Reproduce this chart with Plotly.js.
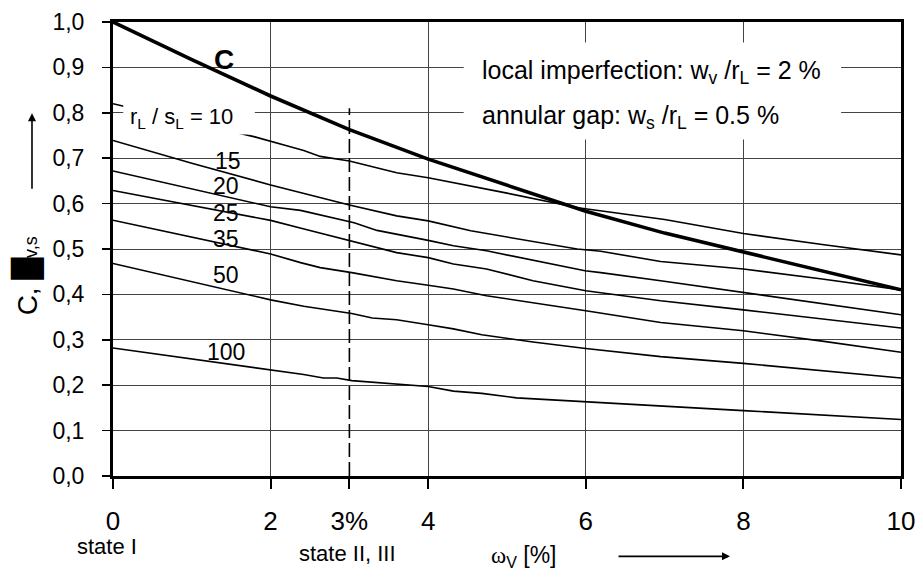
<!DOCTYPE html>
<html>
<head>
<meta charset="utf-8">
<script src="https://cdn.plot.ly/plotly-3.0.1.min.js"></script>
<style>html,body{margin:0;padding:0;background:#fff;}</style>
</head>
<body>
<div id="chart" style="width:916px;height:571px;"></div>
<script>
// ---------- data ----------
const xTickVals = [0, 2, 3, 4, 6, 8, 10];
const xTickText = ['0', '2', '3%', '4', '6', '8', '10'];
const xGridVals = [2, 4, 6, 8];

// buckling coefficient C (thick curve)
const xC = [0, 1, 2, 3, 4, 5, 6, 7, 8, 9, 10];
const yC = [1.0, 0.917, 0.837, 0.763, 0.698, 0.64, 0.583, 0.535, 0.494, 0.452, 0.41];

// r_L / s_L = 10
const x10 = [0, 1, 1.8, 2.25, 2.42, 2.63, 3, 3.6, 4, 5, 5.9, 7, 8, 9, 10];
const y10 = [0.82, 0.78, 0.747, 0.725, 0.717, 0.704, 0.694, 0.668, 0.657, 0.623, 0.591, 0.565, 0.534, 0.51, 0.487];
// r_L / s_L = 15
const x15 = [0, 1, 2, 2.38, 2.63, 3, 3.6, 4, 4.54, 4.92, 5.89, 6.19, 6.95, 8, 9, 10];
const y15 = [0.739, 0.689, 0.641, 0.624, 0.612, 0.597, 0.573, 0.562, 0.54, 0.529, 0.5, 0.495, 0.4725, 0.456, 0.434, 0.41];
// r_L / s_L = 20
const x20 = [0, 1, 2, 2.38, 3.06, 3.35, 3.6, 4, 4.32, 4.74, 5.99, 6.19, 6.95, 8, 10];
const y20 = [0.672, 0.632, 0.593, 0.585, 0.558, 0.541, 0.533, 0.519, 0.507, 0.496, 0.452, 0.448, 0.43, 0.404, 0.355];
// r_L / s_L = 25
const x25 = [0, 1, 2, 2.4, 3, 3.6, 4, 4.32, 4.74, 5.33, 6, 6.95, 8, 9, 10];
const y25 = [0.629, 0.596, 0.563, 0.545, 0.518, 0.492, 0.481, 0.467, 0.456, 0.43, 0.408, 0.386, 0.366, 0.346, 0.326];
// r_L / s_L = 35
const x35 = [0, 1, 2, 2.38, 2.63, 3.03, 3.6, 4, 4.32, 4.74, 5.33, 6, 6.95, 8, 9, 10];
const y35 = [0.5635, 0.527, 0.489, 0.47, 0.459, 0.448, 0.43, 0.42, 0.412, 0.397, 0.382, 0.364, 0.338, 0.32, 0.297, 0.2725];
// r_L / s_L = 50
const x50 = [0, 1, 2, 2.42, 3.03, 3.29, 3.6, 4, 4.32, 4.68, 5.33, 6, 6.95, 8, 9, 10];
const y50 = [0.468, 0.428, 0.388, 0.374, 0.358, 0.348, 0.344, 0.333, 0.324, 0.311, 0.295, 0.281, 0.263, 0.248, 0.232, 0.216];
// r_L / s_L = 100
const x100 = [0, 1, 2, 2.42, 2.67, 2.84, 3.03, 4, 4.32, 4.68, 5.12, 6, 8, 10];
const y100 = [0.282, 0.258, 0.2345, 0.2235, 0.216, 0.216, 0.21, 0.197, 0.187, 0.182, 0.172, 0.163, 0.144, 0.1245];

// state boundary (dashed) at omega_v = 3 %
const stateX = [3, 3];
const stateY = [0, 0.81];

const curveLabels = ['15', '20', '25', '35', '50', '100'];

// ---------- drawing ----------
const FONT = 'Liberation Sans, Arial, sans-serif';
const thin = {color: '#000', width: 1.6};
function line(x, y, style) {
  return {x: x, y: y, type: 'scatter', mode: 'lines', line: style, hoverinfo: 'skip', cliponaxis: true};
}
const traces = [
  line(x10, y10, thin), line(x15, y15, thin), line(x20, y20, thin), line(x25, y25, thin),
  line(x35, y35, thin), line(x50, y50, thin), line(x100, y100, thin),
  line(stateX, stateY, {color: '#000', width: 1.6, dash: '14px,5px'}),
  line(xC, yC, {color: '#000', width: 3.6})
];

const labelPos = [[1.455, 0.694], [1.44, 0.639], [1.44, 0.58], [1.44, 0.523], [1.44, 0.442], [1.44, 0.273]];
const annotations = curveLabels.map((t, i) => ({
  x: labelPos[i][0], y: labelPos[i][1], xref: 'x', yref: 'y', text: t, showarrow: false,
  font: {family: FONT, size: 23, color: '#000'}, xanchor: 'center', yanchor: 'middle'
}));
annotations.push(
  {x: 1.41, y: 0.917, xref: 'x', yref: 'y', text: '<b>C</b>', showarrow: false,
   font: {family: FONT, size: 28, color: '#000'}, xanchor: 'center', yanchor: 'middle'},
  {x: 0.87, y: 0.788, xref: 'x', yref: 'y', text: 'r<sub>L</sub> / s<sub>L</sub> = 10', showarrow: false,
   font: {family: FONT, size: 22, color: '#000'}, xanchor: 'center', yanchor: 'middle'},
  {x: 4.66, y: 0.89, xref: 'x', yref: 'y', text: 'local imperfection: w<sub>v</sub> /r<sub>L</sub> = 2 %', showarrow: false,
   font: {family: FONT, size: 25, color: '#000'}, xanchor: 'left', yanchor: 'middle'},
  {x: 4.66, y: 0.791, xref: 'x', yref: 'y', text: 'annular gap: w<sub>s</sub> /r<sub>L</sub> = 0.5 %', showarrow: false,
   font: {family: FONT, size: 25, color: '#000'}, xanchor: 'left', yanchor: 'middle'},
  // below-axis texts
  {x: -0.0076, y: -0.155, xref: 'paper', yref: 'paper', text: 'state I', showarrow: false,
   font: {family: FONT, size: 22, color: '#000'}, xanchor: 'center', yanchor: 'middle'},
  {x: 0.298, y: -0.17, xref: 'paper', yref: 'paper', text: 'state II, III', showarrow: false,
   font: {family: FONT, size: 22, color: '#000'}, xanchor: 'center', yanchor: 'middle'},
  {x: 0.521, y: -0.178, xref: 'paper', yref: 'paper',
   text: '<span style="font-family:Liberation Serif, serif">ω</span><sub>V</sub> [%]', showarrow: false,
   font: {family: FONT, size: 23, color: '#000'}, xanchor: 'center', yanchor: 'middle'},
  {x: 0.783, y: -0.177, xref: 'paper', yref: 'paper', text: '', showarrow: true,
   ax: -113, ay: 0, arrowhead: 2, arrowsize: 1, arrowwidth: 1.6, arrowcolor: '#000'},
  // y axis title
  {x: -0.109, y: 0.44, xref: 'paper', yref: 'paper', textangle: -90,
   text: 'C, <span style="font-family:DejaVu Sans">█</span><span style="font-size:18px">v,s</span>', showarrow: false,
   font: {family: FONT, size: 28, color: '#000'}, xanchor: 'center', yanchor: 'middle'},
  {x: -0.1028, y: 0.799, xref: 'paper', yref: 'paper', text: '', showarrow: true,
   ax: 0, ay: 77, arrowhead: 2, arrowsize: 1, arrowwidth: 1.6, arrowcolor: '#000'}
);

const shapes = [
  {type: 'rect', xref: 'x', yref: 'y', x0: 0.13, x1: 1.8, y0: 0.752, y1: 0.84,
   fillcolor: '#fff', line: {width: 0}, layer: 'above'},
  {type: 'rect', xref: 'x', yref: 'y', x0: 4.45, x1: 9.24, y0: 0.741, y1: 0.955,
   fillcolor: '#fff', line: {width: 0}, layer: 'above'}
];

const layout = {
  width: 916, height: 571,
  margin: {l: 113, r: 15, t: 22, b: 95, pad: 0},
  paper_bgcolor: '#fff', plot_bgcolor: '#fff',
  showlegend: false,
  separators: ', ',
  font: {family: FONT, color: '#000'},
  xaxis: {
    range: [0, 10], tickmode: 'array', tickvals: xTickVals, ticktext: xTickText,
    showgrid: false, zeroline: false, showline: true, linecolor: '#000', linewidth: 3, mirror: true,
    ticks: 'outside', ticklen: 10, tickwidth: 2, tickcolor: '#000',
    tickfont: {family: FONT, size: 26, color: '#000'}, ticklabelstandoff: 10,
    minor: {tickmode: 'array', tickvals: xGridVals, showgrid: true, gridcolor: '#444', gridwidth: 1, ticks: ''},
    fixedrange: true
  },
  yaxis: {
    range: [0, 1], tick0: 0, dtick: 0.1, tickformat: '.1f',
    showgrid: true, gridcolor: '#444', gridwidth: 1, zeroline: false,
    showline: true, linecolor: '#000', linewidth: 3, mirror: true,
    ticks: 'outside', ticklen: 8, tickwidth: 1.5, tickcolor: '#000',
    tickfont: {family: FONT, size: 23, color: '#000'}, ticklabelstandoff: 13,
    fixedrange: true
  },
  shapes: shapes,
  annotations: annotations
};

Plotly.newPlot('chart', traces, layout, {displayModeBar: false, staticPlot: true});
</script>
</body>
</html>
